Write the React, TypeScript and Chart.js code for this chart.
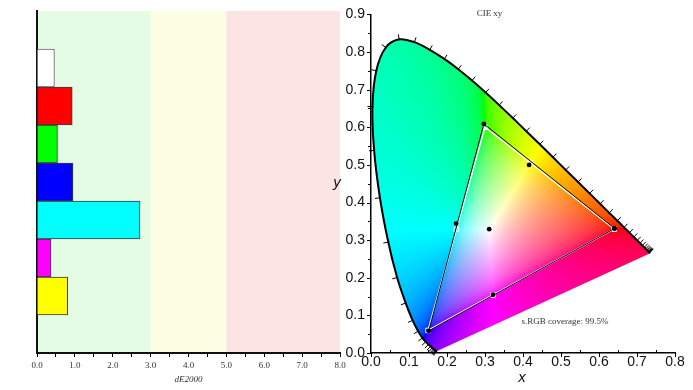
import React, { useEffect, useRef } from 'react';
import { Chart, registerables } from 'chart.js';

Chart.register(...registerables);

// ---------- Left chart data (dE2000) ----------
const deCategories = ['', 'White', 'Red', 'Green', 'Blue', 'Cyan', 'Magenta', 'Yellow', ''];
const deValues = [null, 0.46, 0.93, 0.54, 0.95, 2.72, 0.37, 0.81, null];
const deColors = ['#ffffff', '#ffffff', '#ff0000', '#00ff00', '#0000ff', '#00ffff', '#ff00ff', '#ffff00', '#ffffff'];
const deBorderColors = ['#666666', '#666666', '#3a3a3a', '#3a3a3a', '#3a3a3a', '#3a3a3a', '#3a3a3a', '#3a3a3a', '#3a3a3a'];
const deAxisMin = 0;
const deAxisMax = 8;
const deTickStep = 0.5;
const bandEdges = [0, 3, 5, 8];
const bandColors = ['#e4fce4', '#fefee4', '#fde4e4'];

// ---------- Right chart data (CIE 1931 xy) ----------
// Spectral locus, 380-700 nm every 5 nm
const locusX = [0.1741, 0.1740, 0.1738, 0.1736, 0.1733, 0.1730, 0.1726, 0.1721, 0.1714, 0.1703, 0.1689, 0.1669, 0.1644, 0.1611, 0.1566, 0.1510, 0.1440, 0.1355, 0.1241, 0.1096, 0.0913, 0.0687, 0.0454, 0.0235, 0.0082, 0.0039, 0.0139, 0.0389, 0.0743, 0.1142, 0.1547, 0.1929, 0.2296, 0.2658, 0.3016, 0.3373, 0.3731, 0.4087, 0.4441, 0.4788, 0.5125, 0.5448, 0.5752, 0.6029, 0.6270, 0.6482, 0.6658, 0.6801, 0.6915, 0.7006, 0.7079, 0.7140, 0.7190, 0.7230, 0.7260, 0.7283, 0.7300, 0.7311, 0.7320, 0.7327, 0.7334, 0.7340, 0.7344, 0.7346, 0.7347];
const locusY = [0.0050, 0.0050, 0.0049, 0.0049, 0.0048, 0.0048, 0.0048, 0.0048, 0.0051, 0.0058, 0.0069, 0.0086, 0.0109, 0.0138, 0.0177, 0.0227, 0.0297, 0.0399, 0.0578, 0.0868, 0.1327, 0.2007, 0.2950, 0.4127, 0.5384, 0.6548, 0.7502, 0.8120, 0.8338, 0.8262, 0.8059, 0.7816, 0.7543, 0.7243, 0.6923, 0.6589, 0.6245, 0.5896, 0.5547, 0.5202, 0.4866, 0.4544, 0.4242, 0.3965, 0.3725, 0.3514, 0.3340, 0.3197, 0.3083, 0.2993, 0.2920, 0.2859, 0.2809, 0.2770, 0.2740, 0.2717, 0.2700, 0.2689, 0.2680, 0.2673, 0.2666, 0.2660, 0.2656, 0.2654, 0.2653];

// sRGB target: R, G, B
const targetX = [0.64, 0.30, 0.15];
const targetY = [0.33, 0.60, 0.06];
// sRGB target: Cyan, Yellow, Magenta, White
const targetSecX = [0.2247, 0.4193, 0.3209, 0.3127];
const targetSecY = [0.3287, 0.5053, 0.1542, 0.3290];
// Measured: R, G, B
const measuredX = [0.641, 0.297, 0.152];
const measuredY = [0.331, 0.609, 0.059];
// Measured: Cyan, Yellow, Magenta, White
const measuredSecX = [0.224, 0.416, 0.321, 0.311];
const measuredSecY = [0.344, 0.500, 0.155, 0.329];

const cieXMin = 0;
const cieXMax = 0.8;
const cieYMin = 0;
const cieYMax = 0.9;
const cieMajorStep = 0.1;
const cieMinorStep = 0.05;
const whitePoint = [0.3127, 0.329];

const chartTitle = 'CIE xy';
const coverageText = 's.RGB coverage: 99.5%';

const SANS = '"Liberation Sans", Arial, sans-serif';
const SERIF = '"Liberation Serif", "Times New Roman", serif';

function xyToRgb(x: number, y: number): [number, number, number] {
  const X = x / y;
  const Y = 1;
  const Z = (1 - x - y) / y;
  let r = 3.2406 * X - 1.5372 * Y - 0.4986 * Z;
  let g = -0.9689 * X + 1.8758 * Y + 0.0415 * Z;
  let b = 0.0557 * X - 0.204 * Y + 1.057 * Z;
  const mn = Math.min(r, g, b);
  if (mn < 0) {
    r -= mn;
    g -= mn;
    b -= mn;
  }
  const mx = Math.max(r, g, b) || 1;
  const gm = (v: number) => {
    v = v / mx;
    const c = v <= 0.0031308 ? 12.92 * v : 1.055 * Math.pow(v, 1 / 2.4) - 0.055;
    return Math.max(0, Math.min(255, Math.round(c * 255)));
  };
  return [gm(r), gm(g), gm(b)];
}

const bandPlugin = {
  id: 'bands',
  beforeDraw(chart: any) {
    const { ctx, chartArea: a, scales } = chart;
    const xs = scales.x;
    ctx.save();
    for (let i = 0; i < bandColors.length; i++) {
      const x0 = xs.getPixelForValue(bandEdges[i]);
      const x1 = xs.getPixelForValue(bandEdges[i + 1]);
      ctx.fillStyle = bandColors[i];
      ctx.fillRect(x0, a.top, x1 - x0, a.bottom - a.top);
    }
    ctx.restore();
  },
};

const gamutPlugin = {
  id: 'gamut',
  beforeDatasetsDraw(chart: any) {
    const { ctx, chartArea: a, scales } = chart;
    const xs = scales.x;
    const ys = scales.y;
    const meta = chart.getDatasetMeta(0);
    if (meta.dataset && meta.dataset.updateControlPoints) meta.dataset.updateControlPoints(a);
    const els = meta.data as any[];
    ctx.save();
    ctx.beginPath();
    for (let i = 0; i < els.length; i++) {
      const p = els[i];
      if (i === 0) ctx.moveTo(p.x, p.y);
      else {
        const q = els[i - 1];
        if (q.cp2x !== undefined && p.cp1x !== undefined) ctx.bezierCurveTo(q.cp2x, q.cp2y, p.cp1x, p.cp1y, p.x, p.y);
        else ctx.lineTo(p.x, p.y);
      }
    }
    ctx.closePath();
    ctx.clip();
    const left = Math.floor(a.left);
    const top = Math.floor(a.top);
    const w = Math.ceil(a.right) - left;
    const h = Math.ceil(a.bottom) - top;
    const off = document.createElement('canvas');
    off.width = w;
    off.height = h;
    const octx = off.getContext('2d') as CanvasRenderingContext2D;
    const img = octx.createImageData(w, h);
    for (let j = 0; j < h; j++) {
      const yv = ys.getValueForPixel(top + j + 0.5);
      for (let i = 0; i < w; i++) {
        const xv = xs.getValueForPixel(left + i + 0.5);
        const k = (j * w + i) * 4;
        if (yv <= 0.001) {
          img.data[k + 3] = 0;
          continue;
        }
        const [r, g, b] = xyToRgb(xv, yv);
        img.data[k] = r;
        img.data[k + 1] = g;
        img.data[k + 2] = b;
        img.data[k + 3] = 255;
      }
    }
    octx.putImageData(img, 0, 0);
    ctx.drawImage(off, left, top);
    ctx.restore();
  },
  afterDatasetsDraw(chart: any) {
    // wavelength tick marks along the spectral locus
    const { ctx, scales } = chart;
    const xs = scales.x;
    const ys = scales.y;
    const pts = locusX.map((lx, i) => ({ x: xs.getPixelForValue(lx), y: ys.getPixelForValue(locusY[i]) }));
    const wx = xs.getPixelForValue(whitePoint[0]);
    const wy = ys.getPixelForValue(whitePoint[1]);
    ctx.save();
    ctx.strokeStyle = '#000';
    ctx.lineWidth = 1;
    ctx.beginPath();
    for (let i = 0; i < pts.length; i++) {
      const p0 = pts[Math.max(0, i - 1)];
      const p1 = pts[Math.min(pts.length - 1, i + 1)];
      const tx = p1.x - p0.x;
      const ty = p1.y - p0.y;
      const len = Math.hypot(tx, ty);
      if (len < 0.6) continue;
      let nx = -ty / len;
      let ny = tx / len;
      const p = pts[i];
      if ((p.x - wx) * nx + (p.y - wy) * ny < 0) {
        nx = -nx;
        ny = -ny;
      }
      ctx.moveTo(p.x - nx * 1, p.y - ny * 1);
      ctx.lineTo(p.x + nx * 5, p.y + ny * 5);
    }
    ctx.stroke();
    ctx.restore();
  },
  afterDraw(chart: any) {
    const { ctx, scales } = chart;
    const xs = scales.x;
    const ys = scales.y;
    ctx.save();
    ctx.strokeStyle = '#000';
    ctx.lineWidth = 1;
    ctx.beginPath();
    const ay = ys.getPixelForValue(cieYMin);
    const ax = xs.getPixelForValue(cieXMin);
    const nX = Math.round((cieXMax - cieXMin) / cieMinorStep);
    for (let i = 0; i <= nX; i++) {
      const v = cieXMin + i * cieMinorStep;
      const px = Math.round(xs.getPixelForValue(v)) + 0.5;
      if (i % 2 === 0) {
        ctx.moveTo(px, ay);
        ctx.lineTo(px, ay + 4);
      } else {
        ctx.moveTo(px, ay);
        ctx.lineTo(px, ay - 3);
      }
    }
    const nY = Math.round((cieYMax - cieYMin) / cieMinorStep);
    for (let i = 0; i <= nY; i++) {
      const v = cieYMin + i * cieMinorStep;
      const py = Math.round(ys.getPixelForValue(v)) + 0.5;
      ctx.moveTo(ax, py);
      ctx.lineTo(ax - (i % 2 === 0 ? 4 : 3), py);
    }
    ctx.stroke();

    // axis titles and annotations
    ctx.fillStyle = '#111';
    ctx.font = 'italic 15px ' + SANS;
    ctx.textAlign = 'center';
    ctx.textBaseline = 'alphabetic';
    ctx.fillText('y', 7, 187);
    ctx.fillText('x', (chart.chartArea.left + chart.chartArea.right) / 2 - 1, 382);

    ctx.fillStyle = '#333';
    ctx.font = '9px ' + SERIF;
    ctx.textBaseline = 'middle';
    ctx.fillText(chartTitle, 159.5, 13.5);
    ctx.fillText(coverageText, 235, 322);
    ctx.restore();
  },
};

export default function App() {
  const leftRef = useRef<HTMLCanvasElement>(null);
  const rightRef = useRef<HTMLCanvasElement>(null);

  useEffect(() => {
    if (!leftRef.current || !rightRef.current) return;

    const left = new Chart(leftRef.current, {
      type: 'bar',
      data: {
        labels: deCategories,
        datasets: [
          {
            data: deValues as any,
            backgroundColor: deColors,
            borderColor: deBorderColors,
            borderWidth: 1,
            barPercentage: 1,
            categoryPercentage: 1,
          },
        ],
      },
      options: {
        indexAxis: 'y',
        animation: false,
        responsive: false,
        layout: { padding: { top: 11, right: 10, left: 0, bottom: 0 } },
        plugins: { legend: { display: false }, tooltip: { enabled: false } },
        scales: {
          x: {
            type: 'linear',
            min: deAxisMin,
            max: deAxisMax,
            ticks: {
              stepSize: deTickStep,
              autoSkip: false,
              maxRotation: 0,
              padding: 3,
              color: '#333',
              font: { family: SERIF, size: 9 },
              callback: (v: any) => (Number.isInteger(Number(v)) ? Number(v).toFixed(1) : ''),
            },
            grid: { display: true, drawOnChartArea: false, drawTicks: true, tickLength: 4, color: '#000' },
            border: { display: true, color: '#111', width: 2 },
            title: {
              display: true,
              text: 'dE2000',
              color: '#333',
              font: { family: SERIF, size: 9, style: 'italic' },
              padding: { top: 0, bottom: 5 },
            },
            afterFit: (s: any) => {
              s.height = 37;
            },
          },
          y: {
            ticks: { display: false },
            grid: { display: false, drawTicks: false },
            border: { display: true, color: '#111', width: 2 },
            afterFit: (s: any) => {
              s.width = 37;
            },
          },
        },
      },
      plugins: [bandPlugin],
    } as any);

    const locusData = locusX.map((x, i) => ({ x, y: locusY[i] }));
    const last = locusX.length - 1;
    const purpleLine = [
      { x: locusX[last], y: locusY[last] },
      { x: locusX[0], y: locusY[0] },
    ];
    const tri = (xa: number[], ya: number[]) => {
      const d = xa.map((x, i) => ({ x, y: ya[i] }));
      d.push(d[0]);
      return d;
    };
    const pts = (xa: number[], ya: number[]) => xa.map((x, i) => ({ x, y: ya[i] }));

    const right = new Chart(rightRef.current, {
      type: 'scatter',
      data: {
        datasets: [
          {
            data: locusData,
            showLine: true,
            borderColor: '#000',
            borderWidth: 2,
            pointRadius: 0,
            tension: 0.35,
            order: 6,
          },
          {
            data: purpleLine,
            showLine: true,
            borderColor: 'rgba(0,0,0,0)',
            borderWidth: 0,
            pointRadius: 0,
            tension: 0,
            order: 6,
          },
          {
            data: tri(targetX, targetY),
            showLine: true,
            borderColor: '#ffffff',
            borderWidth: 1.5,
            pointStyle: 'rect',
            pointRadius: 3.2,
            pointBorderColor: '#ffffff',
            pointBackgroundColor: 'rgba(0,0,0,0)',
            pointBorderWidth: 1,
            order: 4,
          },
          {
            data: pts(targetSecX, targetSecY),
            showLine: false,
            pointStyle: 'rect',
            pointRadius: 3.2,
            pointBorderColor: '#ffffff',
            pointBackgroundColor: 'rgba(0,0,0,0)',
            pointBorderWidth: 1,
            order: 3,
          },
          {
            data: tri(measuredX, measuredY),
            showLine: true,
            borderColor: '#000',
            borderWidth: 1,
            pointRadius: 2.4,
            pointBackgroundColor: '#000',
            pointBorderWidth: 0,
            order: 2,
          },
          {
            data: pts(measuredSecX, measuredSecY),
            showLine: false,
            pointRadius: 2.4,
            pointBackgroundColor: '#000',
            pointBorderWidth: 0,
            order: 1,
          },
        ],
      },
      options: {
        animation: false,
        responsive: false,
        layout: { padding: { top: 11, right: 18, left: 0, bottom: 0 } },
        plugins: { legend: { display: false }, tooltip: { enabled: false } },
        scales: {
          x: {
            type: 'linear',
            min: cieXMin,
            max: cieXMax,
            ticks: {
              stepSize: cieMajorStep,
              autoSkip: false,
              maxRotation: 0,
              padding: 1,
              color: '#111',
              font: { family: SANS, size: 14 },
              callback: (v: any) => Number(v).toFixed(1),
            },
            grid: { display: false, drawTicks: false },
            border: { display: true, color: '#000', width: 1.5 },
            afterFit: (s: any) => {
              s.height = 37;
            },
          },
          y: {
            type: 'linear',
            min: cieYMin,
            max: cieYMax,
            ticks: {
              stepSize: cieMajorStep,
              autoSkip: false,
              padding: 6,
              color: '#111',
              font: { family: SANS, size: 14 },
              callback: (v: any) => Number(v).toFixed(1),
            },
            grid: { display: false, drawTicks: false },
            border: { display: true, color: '#000', width: 1.5 },
            afterFit: (s: any) => {
              s.width = 41;
            },
          },
        },
      },
      plugins: [gamutPlugin],
    } as any);

    return () => {
      left.destroy();
      right.destroy();
    };
  }, []);

  return (
    <div style={{ position: 'fixed', left: 0, top: 0, width: 693, height: 390, background: '#fff' }}>
      <canvas ref={leftRef} width={350} height={390} style={{ position: 'absolute', left: 0, top: 0 }} />
      <canvas ref={rightRef} width={363} height={390} style={{ position: 'absolute', left: 330, top: 0 }} />
    </div>
  );
}
